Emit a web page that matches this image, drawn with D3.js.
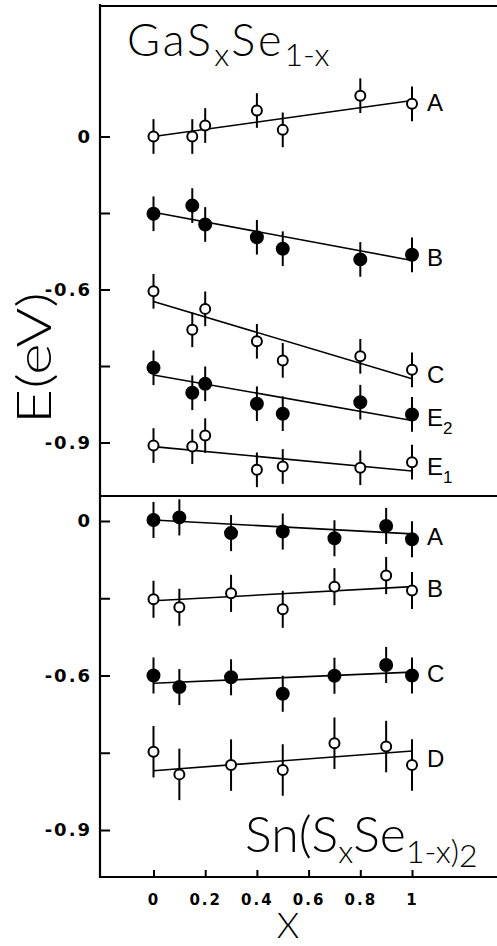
<!DOCTYPE html>
<html>
<head>
<meta charset="utf-8">
<script src="https://cdn.jsdelivr.net/npm/d3@7"></script>
<style>
  body { margin: 0; background: #fff; }
  .tick text { font-family: "DejaVu Sans", sans-serif; font-weight: bold; fill: #000; }
  .thin { font-family: Lato, Roboto, sans-serif; font-weight: 300; fill: #000; }
  .lbl { font-family: "Liberation Sans", Arial, sans-serif; font-size: 24px; fill: #000; }
</style>
</head>
<body>
<div id="chart"></div>
<script>
// composition values for each panel
var xGa = [0, 0.15, 0.2, 0.4, 0.5, 0.8, 1];
var xSn = [0, 0.1, 0.3, 0.5, 0.7, 0.9, 1];

// GaSxSe1-x levels (eV)
var gaA  = [0, 0, 0.043, 0.102, 0.026, 0.16, 0.128];
var gaB  = [-0.303, -0.271, -0.345, -0.395, -0.44, -0.482, -0.464];
var gaC  = [-0.607, -0.758, -0.676, -0.803, -0.878, -0.862, -0.915];
var gaE2 = [-0.907, -1.005, -0.970, -1.048, -1.087, -1.042, -1.090];
var gaE1 = [-1.212, -1.216, -1.173, -1.307, -1.294, -1.299, -1.277];
// straight line fits: value at x=0 and x=1
var gaFit = [[0, 0.141], [-0.297, -0.486], [-0.647, -0.950], [-0.935, -1.114], [-1.216, -1.312]];
var gaNames = ["A", "B", "C", "E2", "E1"];
var gaFilled = [false, true, false, true, false];
var gaErr = [0.068, 0.068, 0.068, 0.068, 0.068];

// Sn(SxSe1-x)2 levels
var snA = [0.004, 0.014, -0.047, -0.041, -0.067, -0.019, -0.071];
var snB = [-0.304, -0.335, -0.281, -0.343, -0.255, -0.212, -0.270];
var snC = [-0.600, -0.645, -0.607, -0.671, -0.601, -0.559, -0.600];
var snD = [-0.896, -0.984, -0.948, -0.967, -0.863, -0.876, -0.948];
var snFit = [[0.004, -0.050], [-0.310, -0.255], [-0.630, -0.587], [-0.970, -0.893]];
var snNames = ["A", "B", "C", "D"];
var snFilled = [true, false, true, false];
var snErr = [0.07, 0.072, 0.07, 0.1];

// axis ticks
var yTickValues = [0, -0.3, -0.6, -0.9, -1.2];
var yTickLabels = ["0", "", "-0.6", "", "-0.9"];
var xTickValues = [0, 0.2, 0.4, 0.6, 0.8, 1];
var xTickLabels = ["0", "0.2", "0.4", "0.6", "0.8", "1"];

var width = 497;
var height = 946;

// frame
var axisX = 100;
var frameTop = 6;
var divider = 496;
var axisY = 877;

var svg = d3.select("#chart")
  .append("svg")
  .attr("width", width)
  .attr("height", height);

var x = d3.scaleLinear().domain([0, 1]).range([153.5, 412]);
var yGa = d3.scaleLinear().domain([0, -0.6]).range([136.5, 289.5]);
var ySn = d3.scaleLinear().domain([0, -0.6]).range([521, 675.5]);

// left axes, ticks pointing into the plot
function yAxisFor(scale) {
  return d3.axisLeft(scale)
    .tickValues(yTickValues)
    .tickFormat(function(d, i) { return yTickLabels[i]; })
    .tickSizeInner(-10)
    .tickSizeOuter(0)
    .tickPadding(8);
}

[yGa, ySn].forEach(function(s) {
  var g = svg.append("g")
    .attr("transform", "translate(" + axisX + ",0)")
    .call(yAxisFor(s));
  g.select(".domain").remove();
  g.selectAll(".tick line").attr("stroke", "#000").attr("stroke-width", 2);
  g.selectAll(".tick text").style("font-size", "18px").attr("letter-spacing", 2);
});

var xg = svg.append("g")
  .attr("transform", "translate(0," + axisY + ")")
  .call(d3.axisBottom(x)
    .tickValues(xTickValues)
    .tickFormat(function(d, i) { return xTickLabels[i]; })
    .tickSizeInner(-7)
    .tickSizeOuter(0)
    .tickPadding(17));
xg.select(".domain").remove();
xg.selectAll(".tick line").attr("stroke", "#000").attr("stroke-width", 2);
xg.selectAll(".tick text").style("font-size", "15px").attr("letter-spacing", 2);

// frame lines
var frame = [
  [axisX, frameTop - 2, axisX, axisY + 1],
  [axisX, frameTop, width, frameTop],
  [axisX, divider, width, divider],
  [axisX, axisY, width, axisY]
];
svg.selectAll("line.frame").data(frame).enter()
  .append("line")
  .attr("class", "frame")
  .attr("x1", function(d) { return d[0]; })
  .attr("y1", function(d) { return d[1]; })
  .attr("x2", function(d) { return d[2]; })
  .attr("y2", function(d) { return d[3]; })
  .attr("stroke", "#000")
  .attr("stroke-width", 2.2);

// draw one panel
function drawPanel(xs, rows, fits, names, filled, errs, yScale) {
  rows.forEach(function(vals, k) {
    var g = svg.append("g");
    var fit = fits[k];

    g.append("line")
      .attr("x1", x(0)).attr("y1", yScale(fit[0]))
      .attr("x2", x(1)).attr("y2", yScale(fit[1]))
      .attr("stroke", "#000")
      .attr("stroke-width", 1.6);

    var pts = vals.map(function(v, i) { return { x: xs[i], y: v }; });

    g.selectAll("line.err").data(pts).enter()
      .append("line")
      .attr("class", "err")
      .attr("x1", function(d) { return x(d.x); })
      .attr("x2", function(d) { return x(d.x); })
      .attr("y1", function(d) { return yScale(d.y + errs[k]); })
      .attr("y2", function(d) { return yScale(d.y - errs[k]); })
      .attr("stroke", "#000")
      .attr("stroke-width", 2);

    g.selectAll("circle").data(pts).enter()
      .append("circle")
      .attr("cx", function(d) { return x(d.x); })
      .attr("cy", function(d) { return yScale(d.y); })
      .attr("r", filled[k] ? 6 : 5)
      .attr("fill", filled[k] ? "#000" : "#fff")
      .attr("stroke", "#000")
      .attr("stroke-width", 2);

    // series label to the right of x = 1
    var ly = (yScale(vals[vals.length - 1]) + yScale(fit[1])) / 2;
    var t = g.append("text")
      .attr("class", "lbl")
      .attr("x", 427)
      .attr("y", ly)
      .attr("dy", "0.36em")
      .text(names[k].charAt(0));
    if (names[k].length > 1) {
      t.append("tspan")
        .attr("font-size", "17px")
        .attr("dy", "8")
        .text(names[k].slice(1));
    }
  });
}

drawPanel(xGa, [gaA, gaB, gaC, gaE2, gaE1], gaFit, gaNames, gaFilled, gaErr, yGa);
drawPanel(xSn, [snA, snB, snC, snD], snFit, snNames, snFilled, snErr, ySn);

// titles
var t1 = svg.append("text")
  .attr("class", "thin")
  .attr("x", 127)
  .attr("y", 56)
  .style("font-size", "45px");
t1.append("tspan").attr("letter-spacing", 3).text("GaS");
t1.append("tspan").attr("dy", 10).style("font-size", "32px").text("x");
t1.append("tspan").attr("dy", -10).attr("dx", 2).attr("letter-spacing", 3).text("Se");
t1.append("tspan").attr("dy", 10).style("font-size", "32px").text("1-x");

var t2 = svg.append("text")
  .attr("class", "thin")
  .attr("x", 245)
  .attr("y", 852)
  .style("font-size", "50px");
t2.append("tspan").text("Sn(S");
t2.append("tspan").attr("dy", 11).style("font-size", "32px").text("x");
t2.append("tspan").attr("dy", -11).text("Se");
t2.append("tspan").attr("dy", 11).style("font-size", "32px").text("1-x)");
t2.append("tspan").attr("dy", 4).style("font-size", "32px").text("2");

// axis titles
svg.append("text")
  .attr("class", "thin")
  .attr("transform", "translate(51,358) rotate(-90)")
  .attr("text-anchor", "middle")
  .attr("textLength", 132)
  .attr("lengthAdjust", "spacingAndGlyphs")
  .style("font-size", "48px")
  .text("E(eV)");

svg.append("text")
  .attr("class", "thin")
  .attr("x", 288)
  .attr("y", 938)
  .attr("text-anchor", "middle")
  .style("font-size", "36px")
  .text("X");
</script>
</body>
</html>
